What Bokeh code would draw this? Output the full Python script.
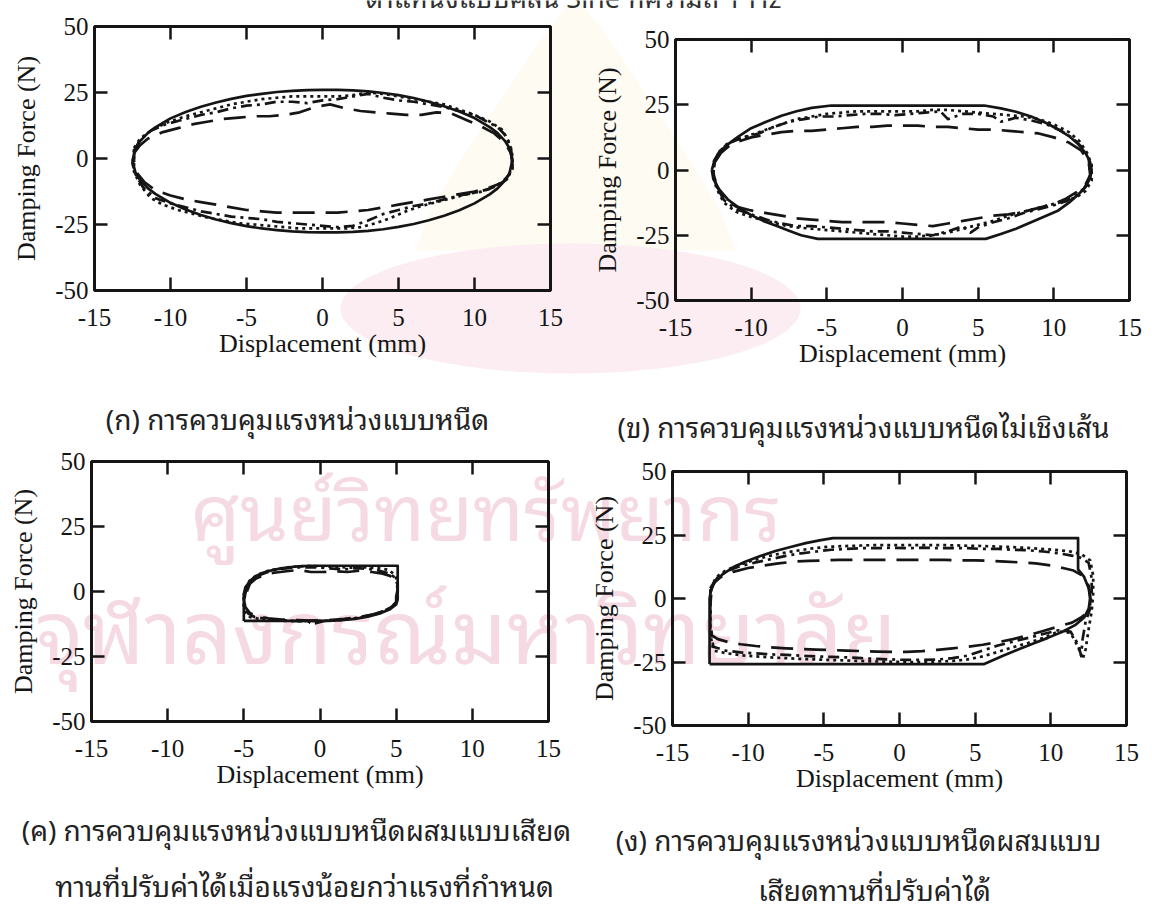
from bokeh.plotting import figure
from bokeh.layouts import column, row
from bokeh.models import Range1d, LinearAxis, FixedTicker
from bokeh.core.properties import value
from bokeh.embed import file_html
from bokeh.resources import INLINE

# ---- axes -----------------------------------------------------------------
X_MIN, X_MAX = -15, 15
Y_MIN, Y_MAX = -50, 50
X_TICKS = [-15, -10, -5, 0, 5, 10, 15]
X_TICK_LABELS = ["-15", "-10", "-5", "0", "5", "10", "15"]
Y_TICKS = [-50, -25, 0, 25, 50]
Y_TICK_LABELS = ["-50", "-25", "0", "25", "50"]
X_LABEL = "Displacement (mm)"
Y_LABEL = "Damping Force (N)"

# ---- (ก) viscous damping control -------------------------------------------
A_SOLID_X = [-12.5, -12.3, -12.0, -11.5, -11.0, -10.0, -9.0, -8.0, -7.0, -6.0, -5.0, -4.0, -3.0, -2.0, -1.0, 0.0,
             1.0, 2.0, 3.0, 4.0, 5.0, 6.0, 7.0, 8.0, 9.0, 10.0, 11.0, 11.5, 12.0, 12.3, 12.5,
             12.3, 12.0, 11.5, 11.0, 10.0, 9.0, 8.0, 7.0, 6.0, 5.0, 4.0, 3.0, 2.0, 1.0, 0.0,
             -1.0, -2.0, -3.0, -4.0, -5.0, -6.0, -7.0, -8.0, -9.0, -10.0, -11.0, -11.5, -12.0, -12.3, -12.5]
A_SOLID_Y = [-1.0, 3.8, 6.6, 9.6, 11.8, 15.2, 17.6, 19.6, 21.2, 22.6, 23.7, 24.5, 25.2, 25.6, 25.9, 26.0,
             26.0, 25.8, 25.4, 24.8, 24.0, 22.9, 21.5, 19.8, 17.8, 15.3, 11.9, 9.7, 6.7, 3.9, -0.5,
             -5.6, -8.4, -11.4, -13.6, -17.0, -19.6, -21.7, -23.4, -24.8, -25.9, -26.8, -27.4, -27.8, -28.0, -28.0,
             -27.9, -27.6, -27.1, -26.5, -25.6, -24.5, -23.1, -21.4, -19.3, -16.8, -13.4, -11.2, -8.2, -5.4, -1.0]
A_DASH_X = [-12.4, -12.0, -11.5, -10.5, -9.5, -8.5, -7.5, -6.5, -5.5, -4.5, -3.5, -2.5, -1.5, -0.5, 0.5, 1.5,
            2.5, 3.5, 4.5, 5.5, 6.5, 7.5, 8.5, 9.5, 10.5, 11.3, 12.0, 12.4,
            12.5, 12.3, 11.7, 11.0, 10.0, 9.0, 8.0, 7.0, 6.0, 5.0, 4.0, 3.0, 2.0, 1.0, 0.0, -1.0, -2.0,
            -3.0, -4.0, -5.0, -6.0, -7.0, -8.0, -9.0, -10.0, -11.0, -11.7, -12.2, -12.4]
A_DASH_Y = [2, 5, 7.5, 10, 11.5, 13, 14, 15, 15.5, 16, 16, 16.5, 17.5, 19.5, 20.5, 19,
            18, 17.5, 17, 16.5, 16.5, 17.5, 17, 14.5, 12, 9.5, 6, 2,
            -3, -7, -9.5, -11, -12.5, -13.5, -14.5, -15.5, -16.5, -17.5, -18.5, -19.5, -20, -20.5, -20.5, -20.5, -20.5,
            -20.5, -20, -19.5, -18.5, -17.5, -16.5, -15.5, -14, -12, -9, -5.5, -1]
A_DASHDOT_X = [-12.4, -12.0, -11.3, -10.3, -9.0, -8.0, -7.0, -6.0, -5.0, -4.0, -3.0, -2.0, -1.0, 0.0, 1.0, 2.0,
               3.0, 4.0, 5.0, 6.0, 7.0, 8.0, 9.0, 10.0, 10.8, 11.5, 12.0, 12.4,
               12.5, 12.3, 11.8, 11.0, 10.0, 9.0, 8.0, 7.0, 6.0, 5.0, 4.0, 3.0, 2.0, 1.0, 0.0, -1.0, -2.0,
               -3.0, -4.0, -5.0, -6.0, -7.0, -8.0, -9.0, -10.0, -11.0, -11.8, -12.3, -12.5]
A_DASHDOT_Y = [3, 7, 10.5, 13, 15, 16.5, 17.5, 19, 20, 20.5, 21.5, 21.5, 21, 22, 22.5, 23.5,
               24.5, 23, 22, 21.5, 20.5, 19.5, 18, 16.5, 14, 12, 9, 4,
               -2, -6, -9, -11.5, -13, -14, -15.5, -17, -18, -19.5, -21, -23.5, -25.5, -26, -25.5, -25, -24.5,
               -24, -23, -22.5, -22, -21, -20, -18.5, -17, -15, -11, -6, -2]
A_DOT_X = [-12.4, -12.0, -11.3, -10.3, -9.0, -8.0, -7.0, -6.0, -5.0, -4.0, -3.0, -2.0, -1.0, 0.0, 1.0, 2.0,
           3.0, 4.0, 5.0, 6.0, 7.0, 8.0, 9.0, 10.0, 11.0, 11.8, 12.3, 12.5,
           12.5, 12.1, 11.4, 10.5, 9.5, 8.5, 7.5, 6.5, 5.5, 4.5, 3.5, 2.5, 1.5, 0.5, -0.5, -1.5,
           -2.5, -3.5, -4.5, -5.5, -6.5, -7.5, -8.5, -9.5, -10.5, -11.3, -12.0, -12.4]
A_DOT_Y = [4, 7.5, 10.5, 13.5, 16, 17.5, 19, 20.5, 21.5, 22.5, 23, 23.5, 23.5, 23.5, 23.5, 24,
           25, 24.5, 23.5, 22.5, 21.5, 20.5, 18.5, 16.5, 14, 11, 6, 1,
           -4, -8, -10.5, -12.5, -13.5, -15, -16.5, -18, -20, -22.5, -24.5, -26, -26.5, -26.5, -26.5, -26.5,
           -26, -25.5, -25, -24.5, -23.5, -22.5, -21, -19.5, -17.5, -15, -10, -5]

# ---- (ข) nonlinear viscous damping control ----------------------------------
B_SOLID_X = [-12.6, -12.4, -12.0, -11.5, -10.8, -10.0, -9.0, -8.0, -7.0, -6.0, -4.7, 5.4, 6.5, 7.5, 8.5, 9.5,
             10.3, 11.0, 11.6, 12.1, 12.4, 12.5, 12.4, 12.1, 11.6, 11.0, 10.3, 9.5, 8.5, 7.5, 6.5, 5.5,
             -5.6, -6.7, -7.5, -8.3, -9.2, -10.0, -10.8, -11.5, -12.1, -12.5, -12.6]
B_SOLID_Y = [0, 4, 7.5, 10, 13, 16, 18.5, 20.8, 22.5, 23.8, 24.7, 24.7, 23.6, 22.3, 20.5, 18,
             15.5, 13, 10, 6.5, 3, 0, -3, -6.5, -9.5, -12.5, -15.5, -17.5, -20, -22.5, -24.5, -26.4,
             -26.4, -25, -23.3, -21.5, -19.5, -17.3, -14.5, -11.5, -7.5, -3.5, 0]
B_DASH_X = [-12.4, -12.0, -11.5, -10.8, -10.0, -9.0, -8.0, -7.0, -6.0, -5.0, -4.0, -3.0, -2.0, -1.0, 0.0, 1.0,
            2.0, 3.0, 4.0, 5.0, 6.0, 7.0, 8.0, 9.0, 10.0, 11.0, 11.8, 12.3,
            12.4, 12.1, 11.5, 10.8, 10.0, 9.0, 8.0, 7.0, 6.0, 5.0, 4.0, 3.0, 2.0, 1.0, 0.0, -1.0, -2.0,
            -3.0, -4.0, -5.0, -6.0, -7.0, -8.0, -9.0, -10.0, -11.0, -11.8, -12.3, -12.5]
B_DASH_Y = [3, 6.5, 9, 11, 12.5, 13.5, 14.5, 15, 15, 15.5, 16, 16.5, 16.5, 17, 17, 17,
            16.5, 16.5, 16, 15.5, 15.5, 15, 14.5, 14, 12.5, 10.5, 7.5, 3.5,
            -2, -5.5, -8.5, -11, -13, -14.5, -16, -17, -17.5, -18.5, -19.5, -20.5, -21.5, -21, -20.5, -20, -20,
            -20, -20, -19.5, -19, -18.5, -17.5, -16.5, -15.5, -14, -11, -6, -1]
B_DASHDOT_X = [-12.4, -12.0, -11.4, -10.5, -9.5, -8.5, -7.5, -6.5, -5.5, -4.5, -3.5, -2.5, -1.5, -0.5, 0.5, 1.5,
               2.5, 3.0, 4.0, 5.0, 6.0, 6.5, 7.5, 8.5, 9.5, 10.5, 11.3, 11.8, 12.3,
               12.4, 12.0, 11.5, 10.8, 10.0, 9.0, 8.0, 7.0, 6.0, 5.0, 4.5, 4.0, 3.0, 2.0, 1.0, 0.0, -1.0,
               -2.0, -3.0, -4.0, -5.0, -6.0, -7.0, -8.0, -9.0, -10.0, -11.0, -11.8, -12.3, -12.5]
B_DASHDOT_Y = [4, 8, 10.5, 12.5, 14, 16.5, 18.5, 19.5, 20.5, 20.5, 21, 21.5, 21.5, 21, 21.5, 22,
               22.5, 19.5, 21.5, 21.5, 20.5, 18.5, 20, 19, 17.5, 15, 12, 9, 5,
               -3, -7, -9.5, -12, -13.5, -15, -16.5, -18.5, -20, -22, -24, -21.5, -23.5, -25, -24.5, -24, -23.5,
               -23.5, -23, -22.5, -22, -21.5, -21.5, -20.5, -19, -17, -15, -11.5, -6, -1]
B_DOT_X = [-12.5, -12.1, -11.6, -11.0, -10.0, -9.0, -8.0, -7.0, -6.0, -5.0, -4.0, -3.0, -2.0, -1.0, 0.0, 1.0,
           2.0, 3.0, 4.0, 5.0, 6.0, 7.0, 8.0, 9.0, 10.0, 11.0, 11.7, 12.2, 12.5,
           12.5, 12.1, 11.6, 11.0, 10.0, 9.0, 8.0, 7.0, 6.0, 5.0, 4.0, 3.0, 2.0, 1.0, 0.0, -1.0,
           -2.0, -3.0, -4.0, -5.0, -6.0, -7.0, -8.0, -9.0, -10.0, -11.0, -11.8, -12.3, -12.5]
B_DOT_Y = [3, 7, 10, 11.5, 13.5, 15.5, 17.5, 19.5, 20.5, 21.5, 22, 22.5, 22.5, 22.5, 22.5, 22.5,
           23, 23, 22.5, 22, 21.5, 21, 20.5, 19.5, 17.5, 14.5, 11, 6.5, 2,
           -4, -8, -10, -11.5, -13, -14.5, -16, -17.5, -19.5, -21, -22.5, -24, -25, -25.5, -25.5, -25,
           -24.5, -24, -23.5, -23, -22.5, -22, -21, -19.5, -18, -16, -12.5, -7, -2]

# ---- (ค) viscous + adjustable friction below the set force ------------------
C_SOLID_X = [-5.0, -5.0, -4.9, -4.6, -4.2, -3.7, -3.0, -2.2, -1.4, -0.7, 5.1, 5.1, 5.0, 4.6, 4.0, 3.2,
             2.3, 1.2, 0.5, -5.0]
C_SOLID_Y = [-11.3, -1.0, 1.5, 4.0, 6.0, 7.3, 8.4, 9.2, 9.7, 9.9, 9.9, -3.0, -5.0, -6.8, -8.3, -9.6,
             -10.5, -11.1, -11.3, -11.3]
C_DASH_X = [-4.8, -4.6, -4.2, -3.6, -3.0, -2.2, -1.4, -0.6, 0.2, 1.0, 1.8, 2.6, 3.4, 4.0, 4.6, 5.0, 5.1, 5.0,
            5.0, 4.7, 4.2, 3.5, 2.6, 1.6, 0.6, -0.5, -1.5, -2.5, -3.4, -4.1, -4.6, -4.9, -5.0]
C_DASH_Y = [0, 3, 5, 6.5, 7.2, 7.8, 8.3, 7.5, 7.5, 7.8, 7.5, 8, 7.5, 7, 6, 4, 1, -2,
            -4, -6, -7.5, -8.8, -9.8, -10.5, -11, -11.2, -11, -10.8, -10.3, -9.5, -8.3, -6, -3]
C_DASHDOT_X = [-4.9, -4.8, -4.5, -4.0, -3.3, -2.5, -1.7, -0.9, 0.0, 0.8, 1.6, 2.4, 3.2, 3.9, 4.5, 4.9, 5.1, 5.1,
               5.0, 4.6, 4.0, 3.2, 2.2, 1.2, 0.2, -0.5, -0.8, -1.8, -2.8, -3.6, -4.3, -4.7, -5.0, -5.0]
C_DASHDOT_Y = [-1, 2, 4.5, 6.3, 7.8, 8.7, 9.2, 9.3, 9.2, 8.8, 8.5, 9, 8.7, 8, 7, 5.5, 2.5, -1.5,
               -4.5, -6.3, -8, -9.3, -10.4, -11, -11.4, -12.6, -11.4, -11.3, -11, -10.5, -9.8, -8.5, -6, -3]
C_DOT_X = [-5.0, -4.9, -4.6, -4.1, -3.4, -2.6, -1.8, -1.0, 0.0, 1.0, 2.0, 3.0, 3.8, 4.5, 4.9, 5.1, 5.1,
           5.0, 4.8, 4.3, 3.6, 2.7, 1.7, 0.7, -0.3, -1.3, -2.3, -3.2, -4.0, -4.6, -4.9, -5.0]
C_DOT_Y = [-1.5, 1.5, 4.3, 6.5, 8, 8.9, 9.5, 9.8, 9.7, 9.5, 9.2, 9.3, 9, 8.3, 6.5, 3.5, 0,
           -3.5, -5.6, -7.3, -8.8, -10, -10.8, -11.2, -11.3, -11.4, -11.3, -11, -10.5, -9.8, -8, -5]

# ---- (ง) viscous + adjustable friction --------------------------------------
D_SOLID_X = [-12.55, -12.55, -12.45, -12.2, -11.7, -11.0, -10.2, -9.2, -8.2, -7.2, -6.2, -5.2, -4.4, 11.8,
             11.8, 12.2, 12.5, 12.6, 12.5, 12.2, 11.6, 10.8, 9.8, 8.8, 7.8, 6.8, 5.6, -12.55]
D_SOLID_Y = [-25.8, 0, 3.5, 6.5, 9.5, 12.3, 14.5, 16.7, 18.7, 20.3, 21.8, 23.0, 23.8, 23.8,
             11.5, 8.5, 4, 0, -4, -7.5, -10.5, -13, -15.5, -17.8, -20.2, -22.6, -25.8, -25.8]
D_DASH_X = [-12.5, -12.3, -11.8, -11.0, -10.0, -9.0, -8.0, -7.0, -6.0, -5.0, -4.0, -3.0, -2.0, -1.0, 0.0,
            1.0, 2.0, 3.0, 4.0, 5.0, 6.0, 7.0, 8.0, 9.0, 10.0, 10.8, 11.5, 12.1, 12.5, 12.6,
            12.6, 12.4, 12.0, 11.4, 10.5, 9.5, 8.5, 7.5, 6.5, 5.5, 4.5, 3.5, 2.5, 1.5, 0.5, -0.5,
            -1.5, -2.5, -3.5, -4.5, -5.5, -6.5, -7.5, -8.5, -9.5, -10.5, -11.3, -12.0, -12.4, -12.5, -12.5]
D_DASH_Y = [2, 6, 8.5, 10.5, 12, 13, 13.8, 14.5, 14.8, 15, 15.2, 15.2, 15.2, 15.2, 15.2,
            15.2, 15.2, 15.2, 15, 15, 14.8, 14.5, 14.2, 13.8, 13, 12, 11, 9, 5, 1,
            -3, -5.5, -7.5, -9.5, -11, -12.8, -14.5, -16, -17.2, -18.2, -19, -19.6, -20.2, -20.7, -21, -21,
            -20.9, -20.7, -20.5, -20.3, -20.1, -19.9, -19.6, -19.2, -18.7, -18, -17.2, -16, -14.5, -8, -2]
D_DASHDOT_X = [-12.4, -12.0, -11.3, -10.5, -9.5, -8.5, -7.5, -6.5, -5.5, -4.5, -3.5, -2.5, -1.5, -0.5, 0.5,
               1.5, 2.5, 3.5, 4.5, 5.5, 6.5, 7.5, 8.5, 9.5, 10.5, 11.3, 12.0, 12.5, 12.7, 12.7,
               12.6, 12.3, 12.1, 12.0, 11.8, 11.3, 10.5, 9.5, 8.5, 7.5, 6.5, 5.5, 4.5, 3.5, 2.5, 1.5,
               0.5, -0.5, -1.5, -2.5, -3.5, -4.5, -5.5, -6.5, -7.5, -8.5, -9.5, -10.5, -11.5, -12.3, -12.5, -12.5]
D_DASHDOT_Y = [5, 8.5, 11, 12.8, 14.2, 15.5, 16.8, 17.8, 18.5, 19.2, 19.5, 19.8, 19.8, 20, 19.8,
               20, 19.8, 19.8, 19.8, 19.5, 19.5, 19.2, 19, 18.5, 17.8, 17, 16, 14, 8, 2,
               -4, -9, -16, -22.5, -18, -13, -12.5, -14, -15.5, -17, -18.5, -20.5, -22.5, -23.5, -24, -24.2,
               -24.2, -24, -23.8, -23.5, -23.2, -23, -22.8, -22.5, -22.2, -22, -21.6, -21.2, -20.5, -19, -12, -3]
D_DOT_X = [-12.5, -12.1, -11.5, -10.7, -9.8, -8.8, -7.8, -6.8, -5.8, -4.8, -3.8, -2.8, -1.8, -0.8, 0.2,
           1.2, 2.2, 3.2, 4.2, 5.2, 6.2, 7.2, 8.2, 9.2, 10.2, 11.2, 12.0, 12.6, 12.8, 12.8,
           12.7, 12.5, 12.3, 12.1, 11.8, 11.3, 10.5, 9.5, 8.5, 7.5, 6.5, 5.5, 4.5, 3.5, 2.5, 1.5,
           0.5, -0.5, -1.5, -2.5, -3.5, -4.5, -5.5, -6.5, -7.5, -8.5, -9.5, -10.5, -11.5, -12.3, -12.5, -12.5]
D_DOT_Y = [4, 8.5, 11, 13, 14.8, 16.5, 17.8, 18.8, 19.7, 20.3, 20.6, 20.8, 21, 21, 21,
           21, 21, 21, 20.8, 20.7, 20.5, 20.3, 20, 19.6, 19.2, 18.6, 17.5, 15, 9, 2,
           -5, -12, -20, -24, -19, -13.5, -13, -15.5, -17.5, -19.2, -21, -22.8, -24, -24.6, -24.8, -25,
           -25, -24.9, -24.8, -24.6, -24.4, -24.2, -24, -23.8, -23.5, -23.2, -22.8, -22.3, -21.5, -20.5, -14, -4]

CURVES = {
    "a": [(A_SOLID_X, A_SOLID_Y, "solid"), (A_DASH_X, A_DASH_Y, "dash"),
          (A_DASHDOT_X, A_DASHDOT_Y, "dashdot"), (A_DOT_X, A_DOT_Y, "dot")],
    "b": [(B_SOLID_X, B_SOLID_Y, "solid"), (B_DASH_X, B_DASH_Y, "dash"),
          (B_DASHDOT_X, B_DASHDOT_Y, "dashdot"), (B_DOT_X, B_DOT_Y, "dot")],
    "c": [(C_SOLID_X, C_SOLID_Y, "solid"), (C_DASH_X, C_DASH_Y, "dash"),
          (C_DASHDOT_X, C_DASHDOT_Y, "dashdot"), (C_DOT_X, C_DOT_Y, "dot")],
    "d": [(D_SOLID_X, D_SOLID_Y, "solid"), (D_DASH_X, D_DASH_Y, "dash"),
          (D_DASHDOT_X, D_DASHDOT_Y, "dashdot"), (D_DOT_X, D_DOT_Y, "dot")],
}

# ---- page texts ------------------------------------------------------------
CAPTION_TEXT = ["(ก) การควบคุมแรงหน่วงแบบหนืด",
                "(ข) การควบคุมแรงหน่วงแบบหนืดไม่เชิงเส้น",
                "(ค) การควบคุมแรงหน่วงแบบหนืดผสมแบบเสียด",
                "ทานที่ปรับค่าได้เมื่อแรงน้อยกว่าแรงที่กำหนด",
                "(ง) การควบคุมแรงหน่วงแบบหนืดผสมแบบ",
                "เสียดทานที่ปรับค่าได้"]
CAPTION_X = [297, 863, 296, 304, 858, 874]
CAPTION_Y = [417, 425, 828, 884, 838, 888]
HEADING = "ตำแหน่งแบบคลื่น Sine ที่ความถี่ 1 Hz"
STAMP_LINES = ["ศูนย์วิทยทรัพยากร", "จุฬาลงกรณ์มหาวิทยาลัย"]

# ---- page layout (pixels) -------------------------------------------------
PAGE_W, PAGE_H = 1152, 911
GEOM = {
    "a": dict(cw=576, ch=442, left=94, top=26, w=456, h=264),
    "b": dict(cw=576, ch=442, left=99, top=39, w=454, h=261),
    "c": dict(cw=576, ch=469, left=91, top=19, w=457, h=260),
    "d": dict(cw=576, ch=469, left=96, top=29, w=454, h=254),
}
DASHES = {"solid": "solid", "dash": "22 11", "dashdot": "11 5 3 5", "dot": "3 4"}
SERIF = "Liberation Serif"
THAI = "'Noto Sans Thai Looped', 'Noto Serif Thai', Loma, Garuda, Waree, 'Noto Sans Thai', sans-serif"
INK = "#151515"
PINK = "#f5d9e3"


def style_axis(ax, ticks, tick_labels, show_labels):
    ax.ticker = FixedTicker(ticks=ticks)
    ax.axis_line_color = None
    ax.major_tick_in = 13
    ax.major_tick_out = 0
    ax.major_tick_line_width = 2.5
    ax.major_tick_line_color = INK
    ax.minor_tick_line_color = None
    if show_labels:
        ax.major_label_overrides = dict(zip(ticks, tick_labels))
        ax.major_label_text_font = SERIF
        ax.major_label_text_color = INK
        ax.major_label_text_font_size = "25px"
        ax.axis_label_text_font = SERIF
        ax.axis_label_text_font_style = "normal"
        ax.axis_label_text_font_size = "26px"
        ax.axis_label_text_color = INK
    else:
        # tick marks only on the top and right edges
        ax.major_label_text_color = None
        ax.major_label_text_font_size = "1px"
        ax.major_label_standoff = 0


def make_panel(key):
    g = GEOM[key]
    p = figure(width=g["cw"], height=g["ch"],
               x_range=Range1d(X_MIN, X_MAX), y_range=Range1d(Y_MIN, Y_MAX),
               x_axis_type=None, y_axis_type=None,
               output_backend="svg", toolbar_location=None,
               min_border_left=g["left"], min_border_top=g["top"],
               min_border_right=g["cw"] - g["left"] - g["w"],
               min_border_bottom=g["ch"] - g["top"] - g["h"],
               background_fill_color=None, border_fill_color=None,
               outline_line_color=INK, outline_line_width=3)
    p.title.visible = False
    p.frame_align = False

    xb = LinearAxis(axis_label=X_LABEL)
    yl = LinearAxis(axis_label=Y_LABEL)
    xt = LinearAxis()
    yr = LinearAxis()
    style_axis(xb, X_TICKS, X_TICK_LABELS, True)
    style_axis(yl, Y_TICKS, Y_TICK_LABELS, True)
    style_axis(xt, X_TICKS, X_TICK_LABELS, False)
    style_axis(yr, Y_TICKS, Y_TICK_LABELS, False)
    xb.major_label_standoff = 18
    xb.axis_label_standoff = 0
    yl.major_label_standoff = 6
    yl.axis_label_standoff = 11
    p.add_layout(xb, "below")
    p.add_layout(yl, "left")
    p.add_layout(xt, "above")
    p.add_layout(yr, "right")

    for xs, ys, style in CURVES[key]:
        p.line(list(xs) + [xs[0]], list(ys) + [ys[0]], line_color=INK, line_width=2.7,
               line_dash=DASHES[style], line_join="round")
    return p


# ---- backdrop page: stamp, heading and captions ---------------------------
bg = figure(width=PAGE_W, height=PAGE_H, x_range=Range1d(0, PAGE_W), y_range=Range1d(PAGE_H, 0),
            x_axis_type=None, y_axis_type=None, output_backend="svg", toolbar_location=None,
            min_border=0, outline_line_color=None,
            background_fill_color="white", border_fill_color="white")
bg.title.visible = False

# faint crown, oval and lettering of the university stamp
bg.patch([575, 610, 650, 690, 720, 735, 415, 430, 460, 500, 540],
         [-5, 40, 100, 160, 210, 250, 250, 210, 160, 100, 40],
         fill_color="#fefbf2", line_color=None)
bg.ellipse(x=[570], y=[308], width=[460], height=[130], fill_color="#fbedf2", line_color=None)
bg.text(x=[190], y=[505], text=[STAMP_LINES[0]], text_align="left", text_baseline="middle",
        text_font=value(THAI), text_font_size=value("78px"), text_color=PINK)
bg.text(x=[35], y=[624], text=[STAMP_LINES[1]], text_align="left", text_baseline="middle",
        text_font=value(THAI), text_font_size=value("88px"), text_color=PINK)

bg.text(x=[573], y=[-5], text=[HEADING], text_align="center", text_baseline="middle",
        text_font=value(THAI), text_font_size=value("27px"), text_color="#303030")
bg.text(x=CAPTION_X, y=CAPTION_Y, text=CAPTION_TEXT, text_align="center", text_baseline="middle",
        text_font=value(THAI), text_font_size=value("28px"), text_color="#222222")

panels = {k: make_panel(k) for k in "abcd"}
grid = column(row(panels["a"], panels["b"]), row(panels["c"], panels["d"]))
grid.margin = (-PAGE_H, 0, 0, 0)
page = column(bg, grid)

with open("out.html", "w") as f:
    f.write(file_html(page, INLINE))
